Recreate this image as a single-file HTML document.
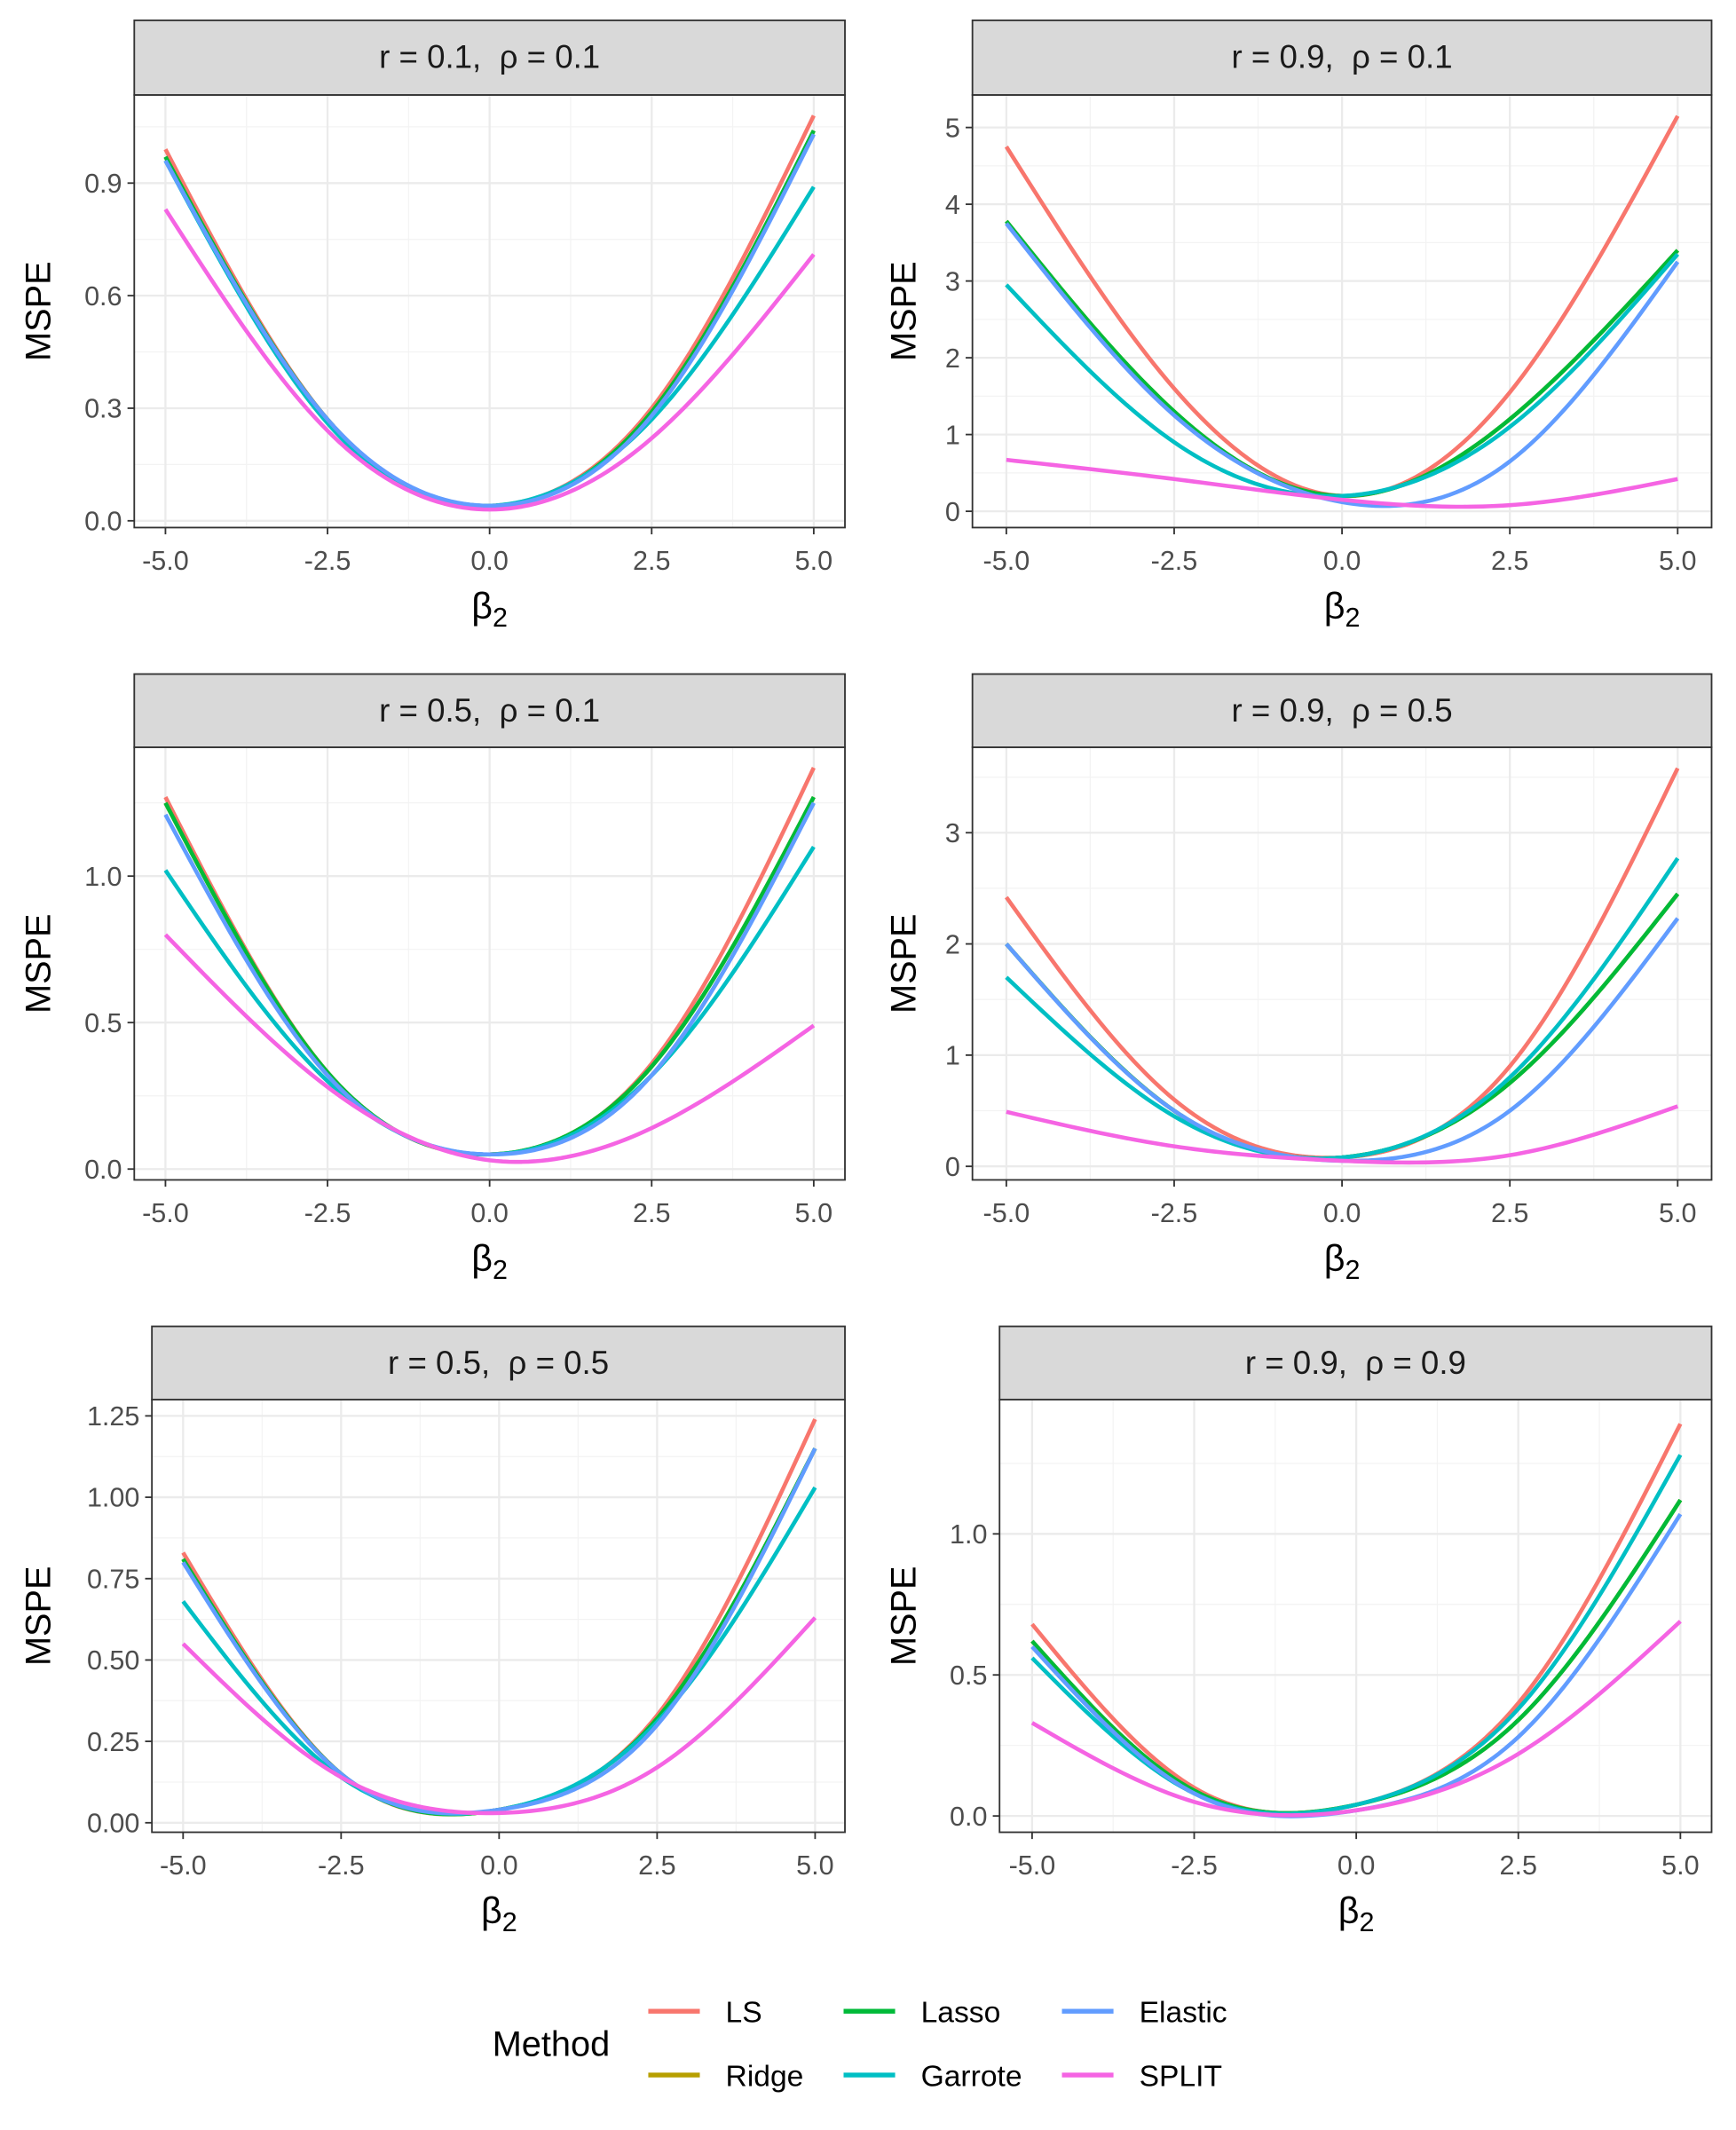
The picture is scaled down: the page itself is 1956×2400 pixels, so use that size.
<!DOCTYPE html>
<html><head><meta charset="utf-8">
<style>
html,body{margin:0;padding:0;background:#fff;}
svg{display:block;font-family:"Liberation Sans",sans-serif;}
text{white-space:pre;}
</style></head>
<body>
<svg id="chart" width="1956" height="2400" viewBox="0 0 1280 1570.55" xmlns="http://www.w3.org/2000/svg"></svg>
<script>
// ---- data ----
const xValues = [-5, -2.5, 0, 2.5, 5];
const methods = ["LS","Ridge","Lasso","Garrote","Elastic","SPLIT"];
const colors = ["#F8766D","#B79F00","#00BA38","#00BFC4","#619CFF","#F564E3"];
const panelTitles = [["0.1","0.1"],["0.9","0.1"],["0.5","0.1"],["0.9","0.5"],["0.5","0.5"],["0.9","0.9"]];
const yTicks1 = [0,0.3,0.6,0.9];
const yTicks2 = [0,1,2,3,4,5];
const yTicks3 = [0,0.5,1.0];
const yTicks4 = [0,1,2,3];
const yTicks5 = [0,0.25,0.5,0.75,1.0,1.25];
const yTicks6 = [0,0.5,1.0];
const yLabels1 = ["0.0","0.3","0.6","0.9"];
const yLabels2 = ["0","1","2","3","4","5"];
const yLabels3 = ["0.0","0.5","1.0"];
const yLabels4 = ["0","1","2","3"];
const yLabels5 = ["0.00","0.25","0.50","0.75","1.00","1.25"];
const yLabels6 = ["0.0","0.5","1.0"];
const xTicks = [-5,-2.5,0,2.5,5];
const xLabels = ["-5.0","-2.5","0.0","2.5","5.0"];
// series per panel (LS, Ridge, Lasso, Garrote, Elastic, SPLIT)
const p1 = [[0.99,0.27,0.04,0.30,1.08],[0.97,0.27,0.04,0.29,1.04],[0.97,0.27,0.04,0.29,1.04],[0.96,0.26,0.04,0.27,0.89],[0.96,0.27,0.04,0.28,1.03],[0.83,0.24,0.03,0.22,0.71]];
const p2 = [[4.75,1.6,0.2,1.55,5.15],[3.78,1.3,0.2,1.2,3.4],[3.78,1.3,0.2,1.2,3.4],[2.95,0.9,0.2,1.1,3.35],[3.75,1.25,0.12,0.65,3.25],[0.67,0.42,0.15,0.08,0.42]];
const p3 = [[1.27,0.33,0.05,0.36,1.37],[1.25,0.33,0.05,0.35,1.27],[1.25,0.33,0.05,0.35,1.27],[1.02,0.30,0.05,0.32,1.10],[1.21,0.32,0.05,0.32,1.25],[0.80,0.28,0.03,0.14,0.49]];
const p4 = [[2.42,0.6,0.08,0.9,3.58],[2.0,0.5,0.08,0.75,2.45],[2.0,0.5,0.08,0.75,2.45],[1.7,0.45,0.08,0.8,2.77],[2.0,0.5,0.05,0.5,2.23],[0.49,0.18,0.05,0.1,0.54]];
const p5 = [[0.83,0.15,0.04,0.33,1.24],[0.81,0.15,0.04,0.32,1.15],[0.81,0.15,0.04,0.32,1.15],[0.68,0.14,0.04,0.31,1.03],[0.80,0.15,0.04,0.30,1.15],[0.55,0.14,0.03,0.17,0.63]];
const p6 = [[0.68,0.10,0.04,0.40,1.39],[0.62,0.09,0.04,0.34,1.12],[0.62,0.09,0.04,0.34,1.12],[0.56,0.08,0.04,0.38,1.28],[0.60,0.08,0.02,0.28,1.07],[0.33,0.05,0.02,0.22,0.69]];

// ---- layout ----
const NS="http://www.w3.org/2000/svg";
const svg=document.getElementById('chart');
function mk(tag,attrs,parent){const e=document.createElementNS(NS,tag);for(const k in attrs)e.setAttribute(k,attrs[k]);(parent||svg).appendChild(e);return e;}
function spline(xs,ys){
 const n=xs.length,h=[],al=[],l=[1],mu=[0],z=[0],c=new Array(n).fill(0),b=[],d=[];
 for(let i=0;i<n-1;i++)h.push(xs[i+1]-xs[i]);
 for(let i=1;i<n-1;i++)al[i]=3/h[i]*(ys[i+1]-ys[i])-3/h[i-1]*(ys[i]-ys[i-1]);
 for(let i=1;i<n-1;i++){l[i]=2*(xs[i+1]-xs[i-1])-h[i-1]*mu[i-1];mu[i]=h[i]/l[i];z[i]=(al[i]-h[i-1]*z[i-1])/l[i];}
 z[n-1]=0;
 for(let j=n-2;j>=0;j--){c[j]=z[j]-mu[j]*c[j+1];b[j]=(ys[j+1]-ys[j])/h[j]-h[j]*(c[j+1]+2*c[j])/3;d[j]=(c[j+1]-c[j])/(3*h[j]);}
 return x=>{let j=0;while(j<n-2&&x>xs[j+1])j++;const t=x-xs[j];return ys[j]+b[j]*t+c[j]*t*t+d[j]*t*t*t;};
}
const panels=[
 {x0:99,x1:623,sy:15,py0:70,py1:389,xa:122,xb:600,ta:384,tb:135,va:0,vb:0.9,ticks:yTicks1,labels:yLabels1,data:p1,ylab:27},
 {x0:717,x1:1262,sy:15,py0:70,py1:389,xa:742,xb:1237,ta:377,tb:94,va:0,vb:5,ticks:yTicks2,labels:yLabels2,data:p2,ylab:665},
 {x0:99,x1:623,sy:497,py0:551,py1:870,xa:122,xb:600,ta:862,tb:646,va:0,vb:1,ticks:yTicks3,labels:yLabels3,data:p3,ylab:27},
 {x0:717,x1:1262,sy:497,py0:551,py1:870,xa:742,xb:1237,ta:860,tb:614,va:0,vb:3,ticks:yTicks4,labels:yLabels4,data:p4,ylab:665},
 {x0:112,x1:623,sy:978,py0:1032,py1:1351,xa:135,xb:601,ta:1344,tb:1044,va:0,vb:1.25,ticks:yTicks5,labels:yLabels5,data:p5,ylab:27},
 {x0:737,x1:1262,sy:978,py0:1032,py1:1351,xa:761,xb:1239,ta:1339,tb:1131,va:0,vb:1.0,ticks:yTicks6,labels:yLabels6,data:p6,ylab:665}
];
panels.forEach((P,i)=>{
 const g=mk('g',{});
 
 
 const xs=v=>P.xa+(v+5)/10*(P.xb-P.xa);
 const ys=v=>P.ta+(v-P.va)/(P.vb-P.va)*(P.tb-P.ta);
 mk('rect',{x:P.x0,y:P.py0,width:P.x1-P.x0,height:P.py1-P.py0,fill:'#fff'},g);
 for(let k=0;k<xTicks.length-1;k++){const x=xs((xTicks[k]+xTicks[k+1])/2);mk('line',{x1:x,x2:x,y1:P.py0,y2:P.py1,stroke:'#F3F3F3','stroke-width':0.8},g);}
 const step=P.ticks[1]-P.ticks[0];
 for(let v=P.ticks[0]-step/2;v<=P.ticks[P.ticks.length-1]+step;v+=step){const y=ys(v);if(y>P.py0&&y<P.py1)mk('line',{x1:P.x0,x2:P.x1,y1:y,y2:y,stroke:'#F3F3F3','stroke-width':0.8},g);}
 xTicks.forEach(t=>{const x=xs(t);mk('line',{x1:x,x2:x,y1:P.py0,y2:P.py1,stroke:'#EBEBEB','stroke-width':1.5},g);});
 P.ticks.forEach(t=>{const y=ys(t);mk('line',{x1:P.x0,x2:P.x1,y1:y,y2:y,stroke:'#EBEBEB','stroke-width':1.5},g);});
 P.data.forEach((s,m)=>{
  const f=spline(xValues,s);
  let d='';
  for(let k=0;k<=100;k++){const xv=-5+k*0.1;d+=(k?'L':'M')+xs(xv).toFixed(2)+','+ys(f(xv)).toFixed(2);}
  const path=mk('path',{d:d,fill:'none',stroke:colors[m],'stroke-width':3,'stroke-linejoin':'round'},g);
  
  
 });
 mk('rect',{x:P.x0,y:P.py0,width:P.x1-P.x0,height:P.py1-P.py0,fill:'none',stroke:'#333','stroke-width':1.2},g);
 const strip=mk('rect',{x:P.x0,y:P.sy,width:P.x1-P.x0,height:P.py0-P.sy,fill:'#D9D9D9',stroke:'#333','stroke-width':1.2},g);
 
 
 const st=mk('text',{x:(P.x0+P.x1)/2,y:P.sy+35,'text-anchor':'middle','font-size':24,fill:'#1A1A1A'},g);
 st.textContent='r = '+panelTitles[i][0]+',  ρ = '+panelTitles[i][1];
 
 
 P.ticks.forEach((t,k)=>{const y=ys(t);mk('line',{x1:P.x0-5,x2:P.x0,y1:y,y2:y,stroke:'#333','stroke-width':1.2},g);
  const tx=mk('text',{x:P.x0-9,y:y+7,'text-anchor':'end','font-size':20,fill:'#4D4D4D'},g);tx.textContent=P.labels[k];
  });
 xTicks.forEach((t,k)=>{const x=xs(t);mk('line',{x1:x,x2:x,y1:P.py1,y2:P.py1+5,stroke:'#333','stroke-width':1.2},g);
  const tx=mk('text',{x:x,y:P.py1+31,'text-anchor':'middle','font-size':20,fill:'#4D4D4D'},g);tx.textContent=xLabels[k];
  });
 const xt=mk('text',{x:(P.xa+P.xb)/2,y:P.py1+67,'text-anchor':'middle','font-size':27,fill:'#000'},g);
 xt.innerHTML='β<tspan font-size="20" dy="6">2</tspan>';
 
 const yt=mk('text',{x:0,y:0,'text-anchor':'middle','font-size':26,fill:'#000',transform:'translate('+(P.ylab+10)+','+((P.py0+P.py1)/2)+') rotate(-90)'},g);
 yt.textContent='MSPE';
 
});
const lg=mk('g',{});


const lt=mk('text',{x:363,y:1516,'font-size':26,fill:'#000'},lg);lt.textContent='Method';
const lx=[478,478,622,622,783,783],ly=[1483,1530,1483,1530,1483,1530];
methods.forEach((m,k)=>{
 const e=mk('g',{},lg);
 
 
 mk('line',{x1:lx[k],x2:lx[k]+38,y1:ly[k],y2:ly[k],stroke:colors[k],'stroke-width':3.5},e);
 const t=mk('text',{x:lx[k]+57,y:ly[k]+8,'font-size':22,fill:'#000'},e);t.textContent=m;
});
</script>
</body></html>
